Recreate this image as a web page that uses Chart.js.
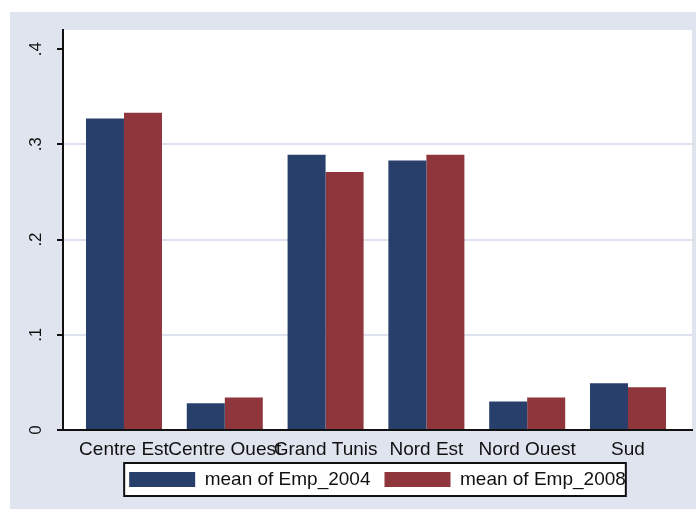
<!DOCTYPE html>
<html>
<head>
<meta charset="utf-8">
<script src="https://cdn.jsdelivr.net/npm/chart.js@4"></script>
<style>
  html, body { margin: 0; padding: 0; background: #ffffff; }
  #wrap { width: 696px; height: 509px; position: relative; }
</style>
</head>
<body>
<div id="wrap"><canvas id="chart"></canvas></div>
<script>
const categories = ["Centre Est", "Centre Ouest", "Grand Tunis", "Nord Est", "Nord Ouest", "Sud"];
const emp2004 = [0.327, 0.028, 0.289, 0.283, 0.030, 0.049];
const emp2008 = [0.333, 0.034, 0.271, 0.289, 0.034, 0.045];
const yTickValues = [0, 0.1, 0.2, 0.3, 0.4];
const yTickLabels = ["0", ".1", ".2", ".3", ".4"];
const seriesLabels = ["mean of Emp_2004", "mean of Emp_2008"];

const regionColor = "#dfe4ef";
const fontFamily = "'Liberation Sans', Arial, sans-serif";

// stata-like backgrounds: bluish graph region, white plot region
const backgroundPlugin = {
  id: "stataBackground",
  beforeDraw(chart) {
    const { ctx, chartArea } = chart;
    ctx.save();
    ctx.fillStyle = "#ffffff";
    ctx.fillRect(0, 0, chart.width, chart.height);
    ctx.fillStyle = regionColor;
    ctx.fillRect(10, 12, chart.width - 10, chart.height - 12);
    ctx.fillStyle = "#ffffff";
    ctx.fillRect(chartArea.left, chartArea.top, chartArea.right - chartArea.left, chartArea.bottom - chartArea.top);
    ctx.restore();
  },
};

// box around the legend, legend has no border option
const legendBoxPlugin = {
  id: "legendBox",
  beforeDraw(chart) {
    const boxes = chart.legend && chart.legend.legendHitBoxes;
    if (!boxes || !boxes.length) return;
    const first = boxes[0];
    const last = boxes[boxes.length - 1];
    const left = first.left - 5;
    const right = last.left + last.width;
    const top = first.top - 7;
    const bottom = first.top + first.height + 7;
    const ctx = chart.ctx;
    ctx.save();
    ctx.fillStyle = "#ffffff";
    ctx.fillRect(left, top, right - left, bottom - top);
    ctx.strokeStyle = "#111111";
    ctx.lineWidth = 2;
    ctx.strokeRect(left, top, right - left, bottom - top);
    ctx.restore();
  },
};

const ctx = document.getElementById("chart").getContext("2d");
new Chart(ctx, {
  type: "bar",
  data: {
    datasets: [
      {
        label: seriesLabels[0],
        data: emp2004.map((v, i) => ({ x: i, y: v })),
        backgroundColor: "#283f6c",
        borderWidth: 0,
      },
      {
        label: seriesLabels[1],
        data: emp2008.map((v, i) => ({ x: i, y: v })),
        backgroundColor: "#8f353c",
        borderWidth: 0,
      },
    ],
  },
  options: {
    responsive: true,
    maintainAspectRatio: false,
    animation: false,
    devicePixelRatio: 1,
    categoryPercentage: 0.754,
    barPercentage: 1,
    layout: { padding: { left: 10, top: 30, right: 4, bottom: 10 } },
    plugins: {
      tooltip: { enabled: false },
      legend: {
        position: "bottom",
        fullSize: false,
        labels: {
          boxWidth: 66,
          boxHeight: 15,
          padding: 14,
          color: "#111111",
          font: { family: fontFamily, size: 19 },
        },
      },
    },
    scales: {
      x: {
        type: "linear",
        min: -0.605,
        max: 5.635,
        offset: false,
        afterBuildTicks(scale) {
          scale.ticks = categories.map((_, i) => ({ value: i }));
        },
        afterFit(scale) {
          scale.height = 26;
        },
        grid: { display: true, drawOnChartArea: false, drawTicks: false },
        border: { color: "#111111", width: 2 },
        ticks: {
          autoSkip: false,
          maxRotation: 0,
          padding: 8,
          color: "#111111",
          font: { family: fontFamily, size: 19 },
          callback: (v) => categories[v] ?? "",
        },
      },
      y: {
        min: 0,
        max: 0.42,
        afterBuildTicks(scale) {
          scale.ticks = yTickValues.map((v) => ({ value: v }));
        },
        afterFit(scale) {
          scale.width = 53;
        },
        grid: {
          color: (c) => (c.tick && (c.tick.value === 0 || c.tick.value === 0.4) ? "rgba(0,0,0,0)" : "#dde3ee"),
          lineWidth: 2,
          tickColor: "#111111",
          tickLength: 6,
          tickWidth: 2,
        },
        border: { color: "#111111", width: 2 },
        ticks: {
          minRotation: 90,
          maxRotation: 90,
          crossAlign: "center",
          padding: 14,
          color: "#111111",
          font: { family: fontFamily, size: 17 },
          callback: (v) => yTickLabels[yTickValues.indexOf(v)] ?? "",
        },
      },
    },
  },
  plugins: [backgroundPlugin, legendBoxPlugin],
});
</script>
</body>
</html>
